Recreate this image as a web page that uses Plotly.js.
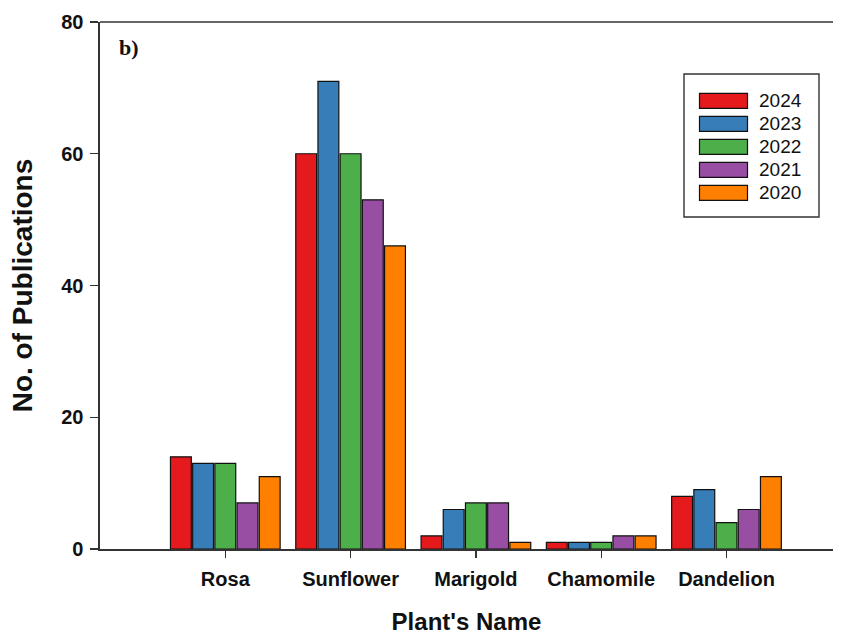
<!DOCTYPE html>
<html>
<head>
<meta charset="utf-8">
<script src="https://cdn.plot.ly/plotly-3.0.1.min.js"></script>
<style>html,body{margin:0;padding:0;background:#fff;}#chart{width:845px;height:635px;}</style>
</head>
<body>
<div id="chart"></div>
<script>
const plants = ["Rosa", "Sunflower", "Marigold", "Chamomile", "Dandelion"];
const years = ["2024", "2023", "2022", "2021", "2020"];
const colors = ["#e41a1c", "#377eb8", "#4daf4a", "#984ea3", "#ff7f00"];
const v2024 = [14, 60, 2, 1, 8];
const v2023 = [13, 71, 6, 1, 9];
const v2022 = [13, 60, 7, 1, 4];
const v2021 = [7, 53, 7, 2, 6];
const v2020 = [11, 46, 1, 2, 11];
const yTicks = [0, 20, 40, 60, 80];

const series = [v2024, v2023, v2022, v2021, v2020];
const W = 845, H = 635;
const M = {l: 100, r: 12, t: 22, b: 86};
const pw = W - M.l - M.r, ph = H - M.t - M.b;
const px = x => (x - M.l) / pw;
const py = y => (H - M.b - y) / ph;

const traces = series.map((vals, i) => ({
  type: "bar", x: plants, y: vals, name: years[i],
  marker: {color: colors[i], line: {color: "#111", width: 1.2}},
  showlegend: false
}));

const shapes = [
  {type: "line", xref: "paper", yref: "paper", x0: 0, x1: 1, y0: 1, y1: 1, line: {color: "#333", width: 1.6}},
  {type: "rect", xref: "paper", yref: "paper", x0: px(684), x1: px(819), y0: py(217), y1: py(74), line: {color: "#333", width: 1.4}, fillcolor: "rgba(0,0,0,0)"}
];
const annotations = [
  {xref: "paper", yref: "paper", x: px(117), y: py(47), xanchor: "left", yanchor: "middle", text: "<b>b)</b>", showarrow: false,
   font: {family: "Liberation Serif, Times New Roman, serif", size: 22, color: "#111"}}
];
years.forEach((yr, i) => {
  const cy = 100.8 + i * 23;
  shapes.push({type: "rect", xref: "paper", yref: "paper", x0: px(699.5), x1: px(747.5), y0: py(cy + 7.5), y1: py(cy - 7.5),
    fillcolor: colors[i], line: {color: "#111", width: 1.2}});
  annotations.push({xref: "paper", yref: "paper", x: px(757), y: py(cy), xanchor: "left", yanchor: "middle", text: yr, showarrow: false,
    font: {family: "Liberation Sans, Arial, sans-serif", size: 19, color: "#111"}});
});

const layout = {
  width: W, height: H,
  margin: M,
  paper_bgcolor: "#fff", plot_bgcolor: "#fff",
  barmode: "group", bargap: 0.114, bargroupgap: 0.06,
  font: {family: "Liberation Sans, Arial, sans-serif", color: "#111"},
  xaxis: {
    type: "category", range: [-1, 4.85],
    showline: true, linecolor: "#333", linewidth: 1.6,
    ticks: "outside", ticklen: 7, tickwidth: 1.4, tickcolor: "#333",
    showgrid: false, zeroline: false, ticklabelstandoff: 4,
    tickfont: {size: 20, family: "Liberation Sans, Arial, sans-serif", weight: "bold", color: "#111"},
    title: {text: "<b>Plant's Name</b>", font: {size: 24, color: "#111"}, standoff: 28}
  },
  yaxis: {
    range: [0, 80], tickvals: yTicks, ticktext: yTicks.map(String),
    showline: true, linecolor: "#333", linewidth: 1.6,
    ticks: "outside", ticklen: 8, tickwidth: 1.4, tickcolor: "#333",
    showgrid: false, zeroline: false, ticklabelstandoff: 3,
    tickfont: {size: 20, family: "Liberation Sans, Arial, sans-serif", weight: "bold", color: "#111"},
    title: {text: "<b>No. of Publications</b>", font: {size: 28, color: "#111"}, standoff: 20}
  },
  shapes: shapes,
  annotations: annotations
};

Plotly.newPlot("chart", traces, layout, {displayModeBar: false, staticPlot: true});
</script>
</body>
</html>
